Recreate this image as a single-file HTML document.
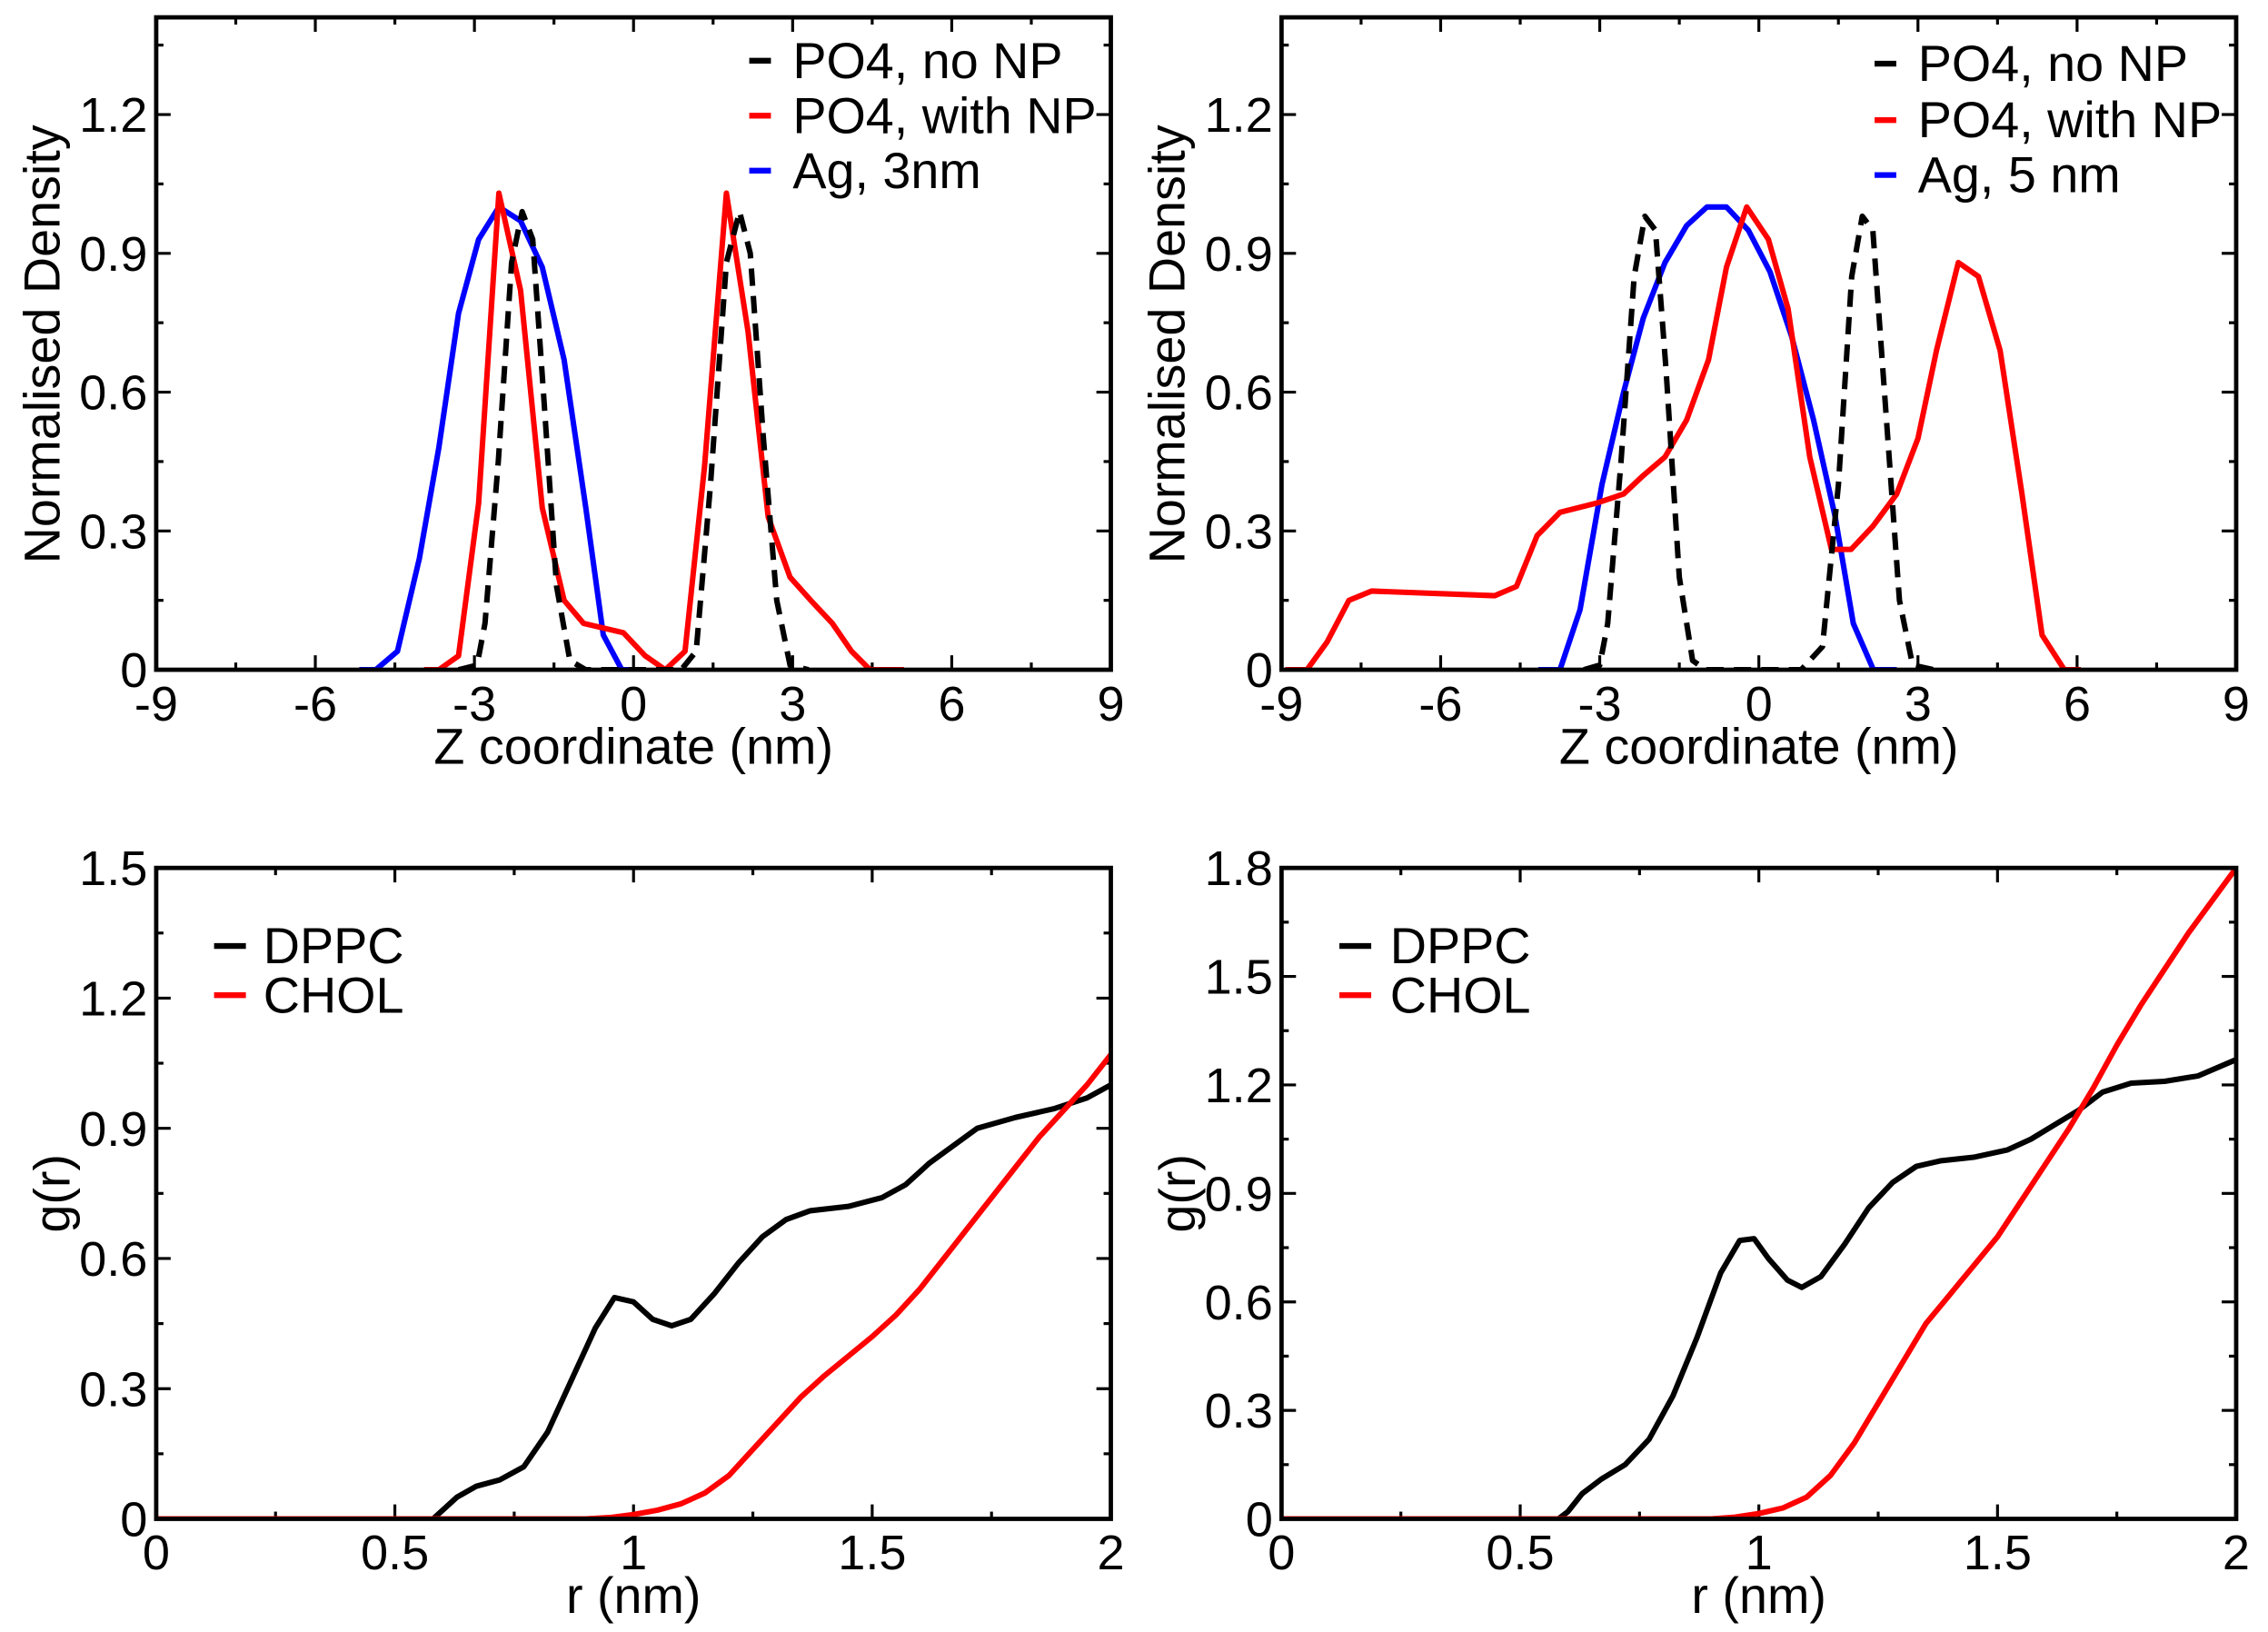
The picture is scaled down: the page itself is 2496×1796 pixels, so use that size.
<!DOCTYPE html>
<html><head><meta charset="utf-8"><style>
html,body{margin:0;padding:0;background:#fff}
svg{display:block}
text{font-family:"Liberation Sans",Arial,sans-serif;fill:#000}
</style></head><body>
<svg id="s" width="2496" height="1796" viewBox="0 0 1568 1128.2" preserveAspectRatio="none" xmlns="http://www.w3.org/2000/svg"></svg>
<script>
const s=document.getElementById('s');let h='';
const FS=35, TS=34;
function panel(x0,y0,x1,y1,xmin,xmax,ymin,ymax,xt,xminor,yt,yminor,xfmt,yfmt){
 const X=v=>x0+(v-xmin)/(xmax-xmin)*(x1-x0);
 const Y=v=>y1-(v-ymin)/(ymax-ymin)*(y1-y0);
 for(let v=xmin;v<=xmax+1e-9;v+=xminor){const px=X(v);const maj=Math.abs((v-xmin)/xt-Math.round((v-xmin)/xt))<1e-6;const L=maj?10:5;
  h+=`<line x1="${px}" y1="${y1}" x2="${px}" y2="${y1-L}" stroke="#000" stroke-width="2"/><line x1="${px}" y1="${y0}" x2="${px}" y2="${y0+L}" stroke="#000" stroke-width="2"/>`;
  if(maj)h+=`<text x="${px}" y="${y1+35}" font-size="${TS}" text-anchor="middle">${xfmt(v)}</text>`;}
 for(let v=ymin;v<=ymax+1e-9;v+=yminor){const py=Y(v);if(py<y0-1)break;const maj=Math.abs(v/yt-Math.round(v/yt))<1e-6;const L=maj?10:5;
  h+=`<line x1="${x0}" y1="${py}" x2="${x0+L}" y2="${py}" stroke="#000" stroke-width="2"/><line x1="${x1}" y1="${py}" x2="${x1-L}" y2="${py}" stroke="#000" stroke-width="2"/>`;
  if(maj)h+=`<text x="${x0-6}" y="${py+12}" font-size="${TS}" text-anchor="end">${yfmt(v)}</text>`;}
 return {X,Y};
}
function line(p,pts,col,dash){
 const d=pts.map((q,i)=>(i?'L':'M')+p.X(q[0]).toFixed(1)+','+p.Y(q[1]).toFixed(1)).join('');
 h+=`<path d="${d}" fill="none" stroke="${col}" stroke-width="3.8" stroke-linejoin="round" ${dash?'stroke-dasharray="12,7"':''}/>`;
}
const zf=v=>String(Math.round(v)), yf=v=>v==0?'0':v.toFixed(1), rf=v=>v==0?'0':(Math.abs(v-Math.round(v))<1e-6?String(Math.round(v)):v.toFixed(1));
h+=`<defs><clipPath id="c1"><rect x="108" y="12" width="660" height="451"/></clipPath><clipPath id="c2"><rect x="886" y="12" width="660" height="451"/></clipPath><clipPath id="c3"><rect x="108" y="600" width="660" height="450"/></clipPath><clipPath id="c4"><rect x="886" y="600" width="660" height="450"/></clipPath></defs>`;
// top-left
let p=panel(108,12,768,463,-9,9,0,1.41,3,1.5,0.3,0.15,zf,yf);
h+='<g clip-path="url(#c1)">';
line(p,[[-5.17,0],[-4.86,0],[-4.45,0.04],[-4.04,0.24],[-3.67,0.48],[-3.3,0.77],[-2.92,0.93],[-2.54,1.0],[-2.13,0.97],[-1.72,0.87],[-1.31,0.67],[-0.9,0.35],[-0.57,0.075],[-0.22,0],[0.22,0]],'#00f');
line(p,[[-3.95,0],[-3.67,0],[-3.3,0.03],[-2.92,0.36],[-2.54,1.03],[-2.13,0.82],[-1.72,0.35],[-1.31,0.15],[-0.94,0.1],[-0.19,0.08],[0.22,0.03],[0.6,0],[0.97,0.04],[1.34,0.44],[1.75,1.03],[2.16,0.73],[2.54,0.33],[2.95,0.2],[3.34,0.15],[3.75,0.1],[4.11,0.04],[4.46,0],[5.1,0]],'#f00');
line(p,[[-3.3,0],[-2.95,0.01],[-2.8,0.1],[-2.55,0.45],[-2.3,0.88],[-2.1,0.99],[-1.9,0.93],[-1.7,0.6],[-1.45,0.18],[-1.2,0.02],[-0.9,0],[-0.6,0],[0.9,0],[1.18,0.04],[1.45,0.4],[1.75,0.88],[2.0,0.99],[2.2,0.9],[2.45,0.5],[2.7,0.15],[2.95,0.01],[3.3,0]],'#000',1);
h+='</g>';
h+=`<rect x="108" y="12" width="660" height="451" fill="none" stroke="#000" stroke-width="3"/>`;
h+=`<line x1="518" y1="42" x2="533" y2="42" stroke="#000" stroke-width="4"/><text x="548" y="54" font-size="${FS}">PO4, no NP</text>`;
h+=`<line x1="518" y1="80" x2="533" y2="80" stroke="#f00" stroke-width="4"/><text x="548" y="92" font-size="${FS}">PO4, with NP</text>`;
h+=`<line x1="518" y1="118" x2="533" y2="118" stroke="#00f" stroke-width="4"/><text x="548" y="130" font-size="${FS}">Ag, 3nm</text>`;
h+=`<text x="438" y="528" font-size="${FS}" text-anchor="middle">Z coordinate (nm)</text>`;
h+=`<text transform="translate(41,238) rotate(-90)" font-size="${FS}" text-anchor="middle">Normalised Density</text>`;
// top-right
p=panel(886,12,1546,463,-9,9,0,1.41,3,1.5,0.3,0.15,zf,yf);
h+='<g clip-path="url(#c2)">';
line(p,[[-4.16,0],[-3.75,0],[-3.37,0.13],[-2.96,0.4],[-2.55,0.6],[-2.18,0.76],[-1.77,0.88],[-1.36,0.96],[-0.98,1.0],[-0.61,1.0],[-0.2,0.95],[0.21,0.86],[0.62,0.72],[1.03,0.54],[1.44,0.33],[1.78,0.1],[2.16,0],[2.6,0]],'#00f');
line(p,[[-8.93,0],[-8.52,0],[-8.14,0.06],[-7.73,0.15],[-7.3,0.17],[-4.98,0.16],[-4.57,0.18],[-4.18,0.29],[-3.75,0.34],[-3.07,0.36],[-2.55,0.38],[-2.18,0.42],[-1.77,0.46],[-1.36,0.54],[-0.95,0.67],[-0.61,0.87],[-0.23,1.0],[0.18,0.93],[0.55,0.78],[0.96,0.46],[1.37,0.26],[1.74,0.26],[2.15,0.31],[2.6,0.38],[3.0,0.5],[3.35,0.69],[3.76,0.88],[4.14,0.85],[4.55,0.69],[4.96,0.38],[5.34,0.075],[5.76,0],[6.07,0]],'#f00');
line(p,[[-3.3,0],[-3.0,0.01],[-2.85,0.1],[-2.6,0.45],[-2.35,0.85],[-2.15,0.98],[-1.95,0.95],[-1.75,0.65],[-1.5,0.2],[-1.25,0.02],[-1.0,0],[0.8,0],[1.2,0.05],[1.5,0.4],[1.75,0.85],[1.95,0.98],[2.15,0.95],[2.4,0.55],[2.65,0.15],[2.9,0.01],[3.3,0]],'#000',1);
h+='</g>';
h+=`<rect x="886" y="12" width="660" height="451" fill="none" stroke="#000" stroke-width="3"/>`;
h+=`<line x1="1296" y1="44" x2="1311" y2="44" stroke="#000" stroke-width="4"/><text x="1326" y="56" font-size="${FS}">PO4, no NP</text>`;
h+=`<line x1="1296" y1="83" x2="1311" y2="83" stroke="#f00" stroke-width="4"/><text x="1326" y="95" font-size="${FS}">PO4, with NP</text>`;
h+=`<line x1="1296" y1="121" x2="1311" y2="121" stroke="#00f" stroke-width="4"/><text x="1326" y="133" font-size="${FS}">Ag, 5 nm</text>`;
h+=`<text x="1216" y="528" font-size="${FS}" text-anchor="middle">Z coordinate (nm)</text>`;
h+=`<text transform="translate(819,238) rotate(-90)" font-size="${FS}" text-anchor="middle">Normalised Density</text>`;
// bottom-left
p=panel(108,600,768,1050,0,2,0,1.5,0.5,0.25,0.3,0.15,rf,yf);
h+='<g clip-path="url(#c3)">';
line(p,[[0,0],[0.58,0],[0.6,0.02],[0.63,0.05],[0.67,0.075],[0.72,0.09],[0.77,0.12],[0.82,0.2],[0.87,0.32],[0.92,0.44],[0.96,0.51],[1.0,0.5],[1.04,0.46],[1.08,0.445],[1.12,0.46],[1.17,0.52],[1.22,0.59],[1.27,0.65],[1.32,0.69],[1.37,0.71],[1.45,0.72],[1.52,0.74],[1.57,0.77],[1.62,0.82],[1.67,0.86],[1.72,0.9],[1.8,0.925],[1.88,0.945],[1.95,0.97],[2.0,1.0]],'#000');
line(p,[[0,0],[0.9,0],[0.95,0.003],[1.0,0.01],[1.05,0.02],[1.1,0.035],[1.15,0.06],[1.2,0.1],[1.25,0.16],[1.3,0.22],[1.35,0.28],[1.4,0.33],[1.45,0.375],[1.5,0.42],[1.55,0.47],[1.6,0.53],[1.65,0.6],[1.7,0.67],[1.75,0.74],[1.8,0.81],[1.85,0.88],[1.9,0.94],[1.95,1.0],[2.0,1.07]],'#f00');
h+='</g>';
h+=`<rect x="108" y="600" width="660" height="450" fill="none" stroke="#000" stroke-width="3"/>`;
h+=`<line x1="148" y1="654" x2="170" y2="654" stroke="#000" stroke-width="4"/><text x="182" y="666" font-size="${FS}">DPPC</text>`;
h+=`<line x1="148" y1="688" x2="170" y2="688" stroke="#f00" stroke-width="4"/><text x="182" y="700" font-size="${FS}">CHOL</text>`;
h+=`<text x="438" y="1115" font-size="${FS}" text-anchor="middle">r (nm)</text>`;
h+=`<text transform="translate(48,825) rotate(-90)" font-size="${FS}" text-anchor="middle">g(r)</text>`;
// bottom-right
p=panel(886,600,1546,1050,0,2,0,1.8,0.5,0.25,0.3,0.15,rf,yf);
h+='<g clip-path="url(#c4)">';
line(p,[[0,0],[0.58,0],[0.6,0.02],[0.63,0.07],[0.67,0.11],[0.72,0.15],[0.77,0.22],[0.82,0.34],[0.87,0.5],[0.92,0.68],[0.96,0.77],[0.99,0.775],[1.02,0.72],[1.06,0.66],[1.09,0.64],[1.13,0.67],[1.18,0.76],[1.23,0.86],[1.28,0.93],[1.33,0.975],[1.38,0.99],[1.45,1.0],[1.52,1.02],[1.57,1.05],[1.62,1.09],[1.67,1.13],[1.72,1.18],[1.78,1.205],[1.85,1.21],[1.92,1.225],[2.0,1.27]],'#000');
line(p,[[0,0],[0.9,0],[0.95,0.005],[1.0,0.015],[1.05,0.03],[1.1,0.06],[1.15,0.12],[1.2,0.21],[1.25,0.32],[1.3,0.43],[1.35,0.54],[1.4,0.62],[1.45,0.7],[1.5,0.78],[1.55,0.88],[1.6,0.98],[1.65,1.08],[1.7,1.19],[1.75,1.31],[1.8,1.42],[1.85,1.52],[1.9,1.62],[1.95,1.71],[2.0,1.8]],'#f00');
h+='</g>';
h+=`<rect x="886" y="600" width="660" height="450" fill="none" stroke="#000" stroke-width="3"/>`;
h+=`<line x1="926" y1="654" x2="948" y2="654" stroke="#000" stroke-width="4"/><text x="961" y="666" font-size="${FS}">DPPC</text>`;
h+=`<line x1="926" y1="688" x2="948" y2="688" stroke="#f00" stroke-width="4"/><text x="961" y="700" font-size="${FS}">CHOL</text>`;
h+=`<text x="1216" y="1115" font-size="${FS}" text-anchor="middle">r (nm)</text>`;
h+=`<text transform="translate(826,825) rotate(-90)" font-size="${FS}" text-anchor="middle">g(r)</text>`;
s.innerHTML=h;
</script>
</body></html>
